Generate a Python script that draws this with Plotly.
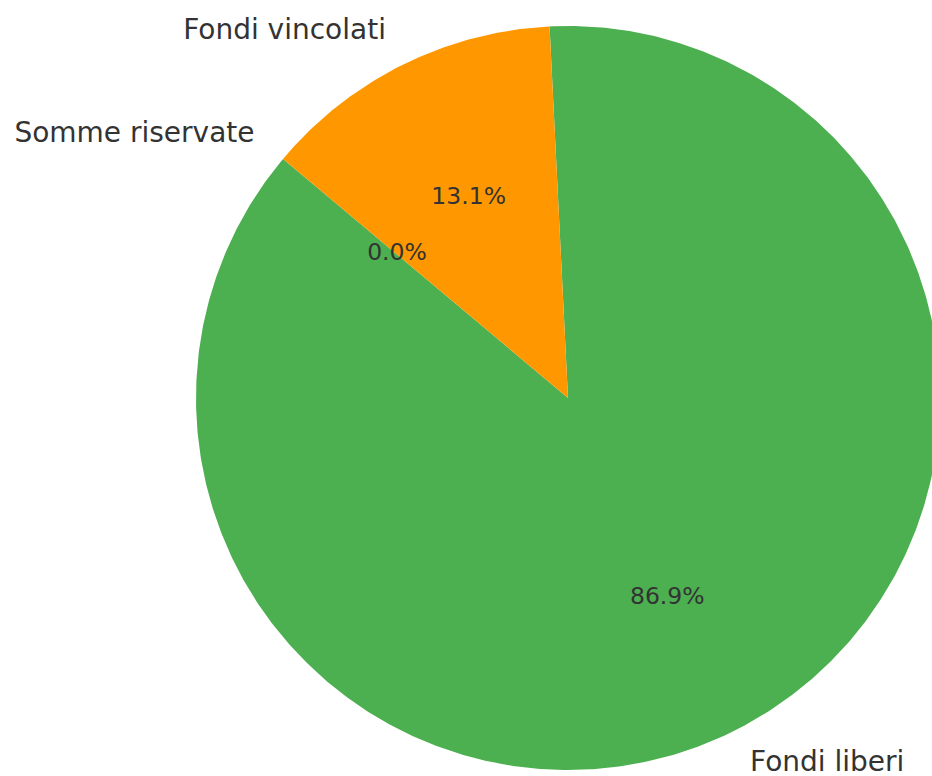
import numpy as np
import plotly.graph_objects as go

labels = ["Fondi liberi", "Fondi vincolati", "Somme riservate"]
values = [86.9, 13.1, 0.0]
colors = ["#4CAF50", "#FF9800", "#2196F3"]
start_angle = 140.0  # degrees, counterclockwise from 3 o'clock

fig = go.Figure()

total = float(sum(values))
theta = start_angle
label_x, label_y, label_pos = [], [], []
pct_x, pct_y, pct_txt = [], [], []
for lab, val, col in zip(labels, values, colors):
    span = 360.0 * val / total
    t0, t1 = theta, theta + span
    mid = np.deg2rad((t0 + t1) / 2)
    if span > 0:
        ang = np.deg2rad(np.linspace(t0, t1, max(int(span * 2), 2)))
        xs = np.concatenate([[0], np.cos(ang), [0]])
        ys = np.concatenate([[0], np.sin(ang), [0]])
        fig.add_trace(go.Scatter(x=xs, y=ys, mode="lines", fill="toself",
                                 fillcolor=col, line=dict(width=0, color=col),
                                 hoverinfo="skip", showlegend=False))
    lx, ly = 1.1 * np.cos(mid), 1.1 * np.sin(mid)
    label_x.append(lx)
    label_y.append(ly)
    label_pos.append("middle right" if lx > 0 else "middle left")
    pct_x.append(0.6 * np.cos(mid))
    pct_y.append(0.6 * np.sin(mid))
    pct_txt.append(f"{100 * val / total:.1f}%")
    theta = t1

fig.add_trace(go.Scatter(x=label_x, y=label_y, mode="text", text=labels,
                         textposition=label_pos,
                         textfont=dict(family="DejaVu Sans", size=28, color="#333333"),
                         hoverinfo="skip", showlegend=False, cliponaxis=False))
fig.add_trace(go.Scatter(x=pct_x, y=pct_y, mode="text", text=pct_txt,
                         textposition="middle center",
                         textfont=dict(family="DejaVu Sans", size=23.5, color="#333333"),
                         hoverinfo="skip", showlegend=False))

fig.update_layout(
    width=932, height=776,
    margin=dict(l=0, r=0, t=0, b=0),
    paper_bgcolor="white", plot_bgcolor="white",
    xaxis=dict(range=[-568 / 372, 364 / 372], visible=False, fixedrange=True),
    yaxis=dict(range=[-378 / 372, 398 / 372], visible=False, fixedrange=True),
)

fig.write_html(
    "out.html",
    config={"displayModeBar": False, "staticPlot": True},
    post_script=(
        "document.body.style.margin='0';"
        "document.body.style.overflow='hidden';"
        "document.documentElement.style.overflow='hidden';"
    ),
)
